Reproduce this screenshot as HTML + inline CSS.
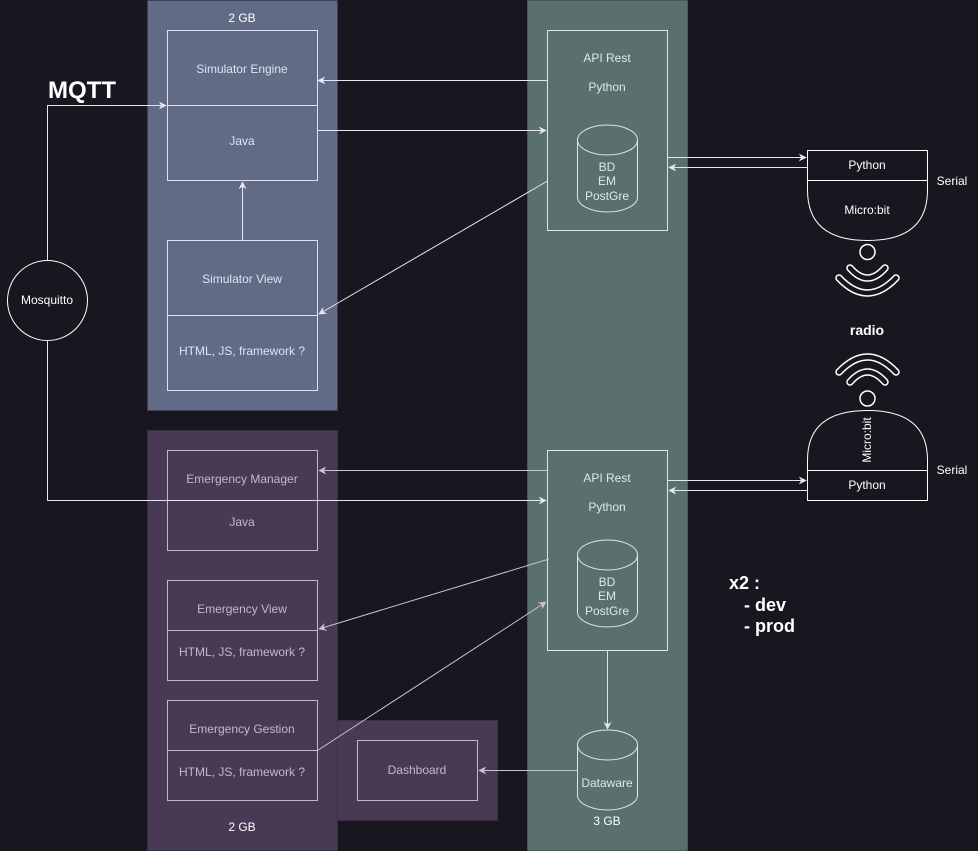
<!DOCTYPE html>
<html><head><meta charset="utf-8"><style>
html,body{margin:0;padding:0;background:#18161e;}
svg{display:block;font-family:"Liberation Sans",sans-serif;}
</style></head><body>
<svg width="978" height="851" viewBox="0 0 978 851" xmlns="http://www.w3.org/2000/svg">
<defs>
<marker id="a" viewBox="0 0 10 10" refX="9" refY="5" markerWidth="8" markerHeight="8" orient="auto-start-reverse" markerUnits="userSpaceOnUse"><path d="M0,0 L10,5 L0,10 L3,5 Z" fill="#e6e6f0"/></marker>
<marker id="ap" viewBox="0 0 10 10" refX="9" refY="5" markerWidth="8" markerHeight="8" orient="auto-start-reverse" markerUnits="userSpaceOnUse"><path d="M0,0 L10,5 L0,10 L3,5 Z" fill="#cdbfd6"/></marker>
<marker id="ag" viewBox="0 0 10 10" refX="9" refY="5" markerWidth="8" markerHeight="8" orient="auto-start-reverse" markerUnits="userSpaceOnUse"><path d="M0,0 L10,5 L0,10 L3,5 Z" fill="#d8ece6"/></marker>
</defs>
<rect width="978" height="851" fill="#18161e"/>
<rect x="147.5" y="0.5" width="190" height="410" fill="#616b85" stroke="#3c3f55"/>
<rect x="147.5" y="430.5" width="190" height="420" fill="#483a55" stroke="#3a2f46"/>
<rect x="337.5" y="720.5" width="160" height="100" fill="#483a55" stroke="#3a2f46"/>
<rect x="527.5" y="0.5" width="160" height="850" fill="#5a706c" stroke="#46585a"/>

<g font-size="12" text-anchor="middle">
<text x="242" y="22" fill="#fff">2 GB</text>
<text x="242" y="831" fill="#fff">2 GB</text>
<text x="607" y="825" fill="#fff">3 GB</text>
</g>

<g fill="none" stroke="#dfe3f0">
<rect x="167.5" y="30.5" width="150" height="150"/><line x1="167.5" y1="105.5" x2="317.5" y2="105.5"/>
<rect x="167.5" y="240.5" width="150" height="150"/><line x1="167.5" y1="315.5" x2="317.5" y2="315.5"/>
</g>
<g font-size="12" text-anchor="middle" fill="#dfe3f0">
<text x="242" y="73">Simulator Engine</text><text x="242" y="145">Java</text>
<text x="242" y="283">Simulator View</text><text x="242" y="355">HTML, JS, framework ?</text>
</g>
<g fill="none" stroke="#c4b6cf">
<rect x="167.5" y="450.5" width="150" height="100"/><line x1="167.5" y1="500.5" x2="317.5" y2="500.5"/>
<rect x="167.5" y="580.5" width="150" height="100"/><line x1="167.5" y1="630.5" x2="317.5" y2="630.5"/>
<rect x="167.5" y="700.5" width="150" height="100"/><line x1="167.5" y1="750.5" x2="317.5" y2="750.5"/>
<rect x="357.5" y="740.5" width="120" height="60"/>
</g>
<g font-size="12" text-anchor="middle" fill="#c4b6cf">
<text x="242" y="483">Emergency Manager</text><text x="242" y="526">Java</text>
<text x="242" y="613">Emergency View</text><text x="242" y="656">HTML, JS, framework ?</text>
<text x="242" y="733">Emergency Gestion</text><text x="242" y="776">HTML, JS, framework ?</text>
<text x="417" y="774">Dashboard</text>
</g>
<g fill="none" stroke="#d8ece6">
<rect x="547.5" y="30.5" width="120" height="200"/>
<rect x="547.5" y="450.5" width="120" height="200"/>
<path d="M577.5,140 A30,15 0 0 1 637.5,140 L637.5,197 A30,15 0 0 1 577.5,197 Z M577.5,140 A30,15 0 0 0 637.5,140"/>
<path d="M577.5,555 A30,15 0 0 1 637.5,555 L637.5,612 A30,15 0 0 1 577.5,612 Z M577.5,555 A30,15 0 0 0 637.5,555"/>
<path d="M577.5,745 A30,15 0 0 1 637.5,745 L637.5,795 A30,15 0 0 1 577.5,795 Z M577.5,745 A30,15 0 0 0 637.5,745"/>
</g>
<g font-size="12" text-anchor="middle" fill="#d8ece6">
<text x="607" y="62">API Rest</text><text x="607" y="91">Python</text>
<text x="607" y="171">BD</text><text x="607" y="185">EM</text><text x="607" y="200">PostGre</text>
<text x="607" y="482">API Rest</text><text x="607" y="511">Python</text>
<text x="607" y="586">BD</text><text x="607" y="600">EM</text><text x="607" y="615">PostGre</text>
<text x="607" y="787">Dataware</text>
</g>

<circle cx="47.5" cy="300.5" r="40" fill="none" stroke="#fff"/>
<text x="47" y="304" font-size="12" text-anchor="middle" fill="#fff">Mosquitto</text>
<text x="48" y="98" font-size="24" font-weight="bold" fill="#fff">MQTT</text>

<g fill="none" stroke="#e6e6f0">
<path d="M47.5,260 V105.5 H166" marker-end="url(#a)"/>
<path d="M547.5,80.5 H318" marker-end="url(#a)"/>
<path d="M317.5,130.5 H546" marker-end="url(#a)"/>
<path d="M242.5,240 V182" marker-end="url(#a)"/>
<path d="M547.5,181 L319,314" marker-end="url(#a)"/>
<path d="M47.5,341 V500.5 H546" marker-end="url(#a)"/>
<path d="M667.5,157.5 H806" marker-end="url(#a)"/>
<path d="M807.5,167.5 H669" marker-end="url(#a)"/>
<path d="M667.5,480.5 H806" marker-end="url(#a)"/>
<path d="M807.5,490.5 H669" marker-end="url(#a)"/>
</g>
<g fill="none" stroke="#cdbfd6">
<path d="M547.5,470.5 H319" marker-end="url(#ap)"/>
<path d="M549,559 L319,629" marker-end="url(#ap)"/>
<path d="M317.5,750.5 L546,602" marker-end="url(#ap)"/>
<path d="M577.5,770.5 H479" marker-end="url(#ap)"/>
</g>
<path d="M607.5,651 V729" fill="none" stroke="#d8ece6" marker-end="url(#ag)"/>

<g fill="none" stroke="#fff">
<rect x="807.5" y="150.5" width="120" height="30"/>
<path d="M807.5,180.5 V190 Q807.5,240.5 867.5,240.5 Q927.5,240.5 927.5,190 V180.5"/>
<rect x="807.5" y="470.5" width="120" height="30"/>
<path d="M807.5,470.5 V460 Q807.5,410.5 867.5,410.5 Q927.5,410.5 927.5,460 V470.5"/>
<circle cx="867.5" cy="252" r="7.5" stroke-width="1.5"/>
<circle cx="867.5" cy="398.5" r="7.5" stroke-width="1.5"/>
</g>
<g fill="none" stroke-linecap="round">
<path d="M850,268 Q867.5,288 885,268 M839,278 Q867.5,308 896,278" stroke="#fff" stroke-width="7.5"/>
<path d="M850,268 Q867.5,288 885,268 M839,278 Q867.5,308 896,278" stroke="#18161e" stroke-width="4.5"/>
<path d="M850,382 Q867.5,362 885,382 M839,372 Q867.5,342 896,372" stroke="#fff" stroke-width="7.5"/>
<path d="M850,382 Q867.5,362 885,382 M839,372 Q867.5,342 896,372" stroke="#18161e" stroke-width="4.5"/>
</g>
<g font-size="12" fill="#fff" text-anchor="middle">
<text x="867" y="169">Python</text><text x="867" y="214">Micro:bit</text>
<text x="867" y="489">Python</text>
<text transform="translate(871,440) rotate(-90)">Micro:bit</text>
<text x="952" y="185">Serial</text><text x="952" y="474">Serial</text>
<text x="867" y="335" font-size="14" font-weight="bold">radio</text>
</g>
<g font-size="18" font-weight="bold" fill="#fff">
<text x="729" y="589">x2 :</text>
<text x="744" y="611">- dev</text>
<text x="744" y="632">- prod</text>
</g>
</svg>
</body></html>
